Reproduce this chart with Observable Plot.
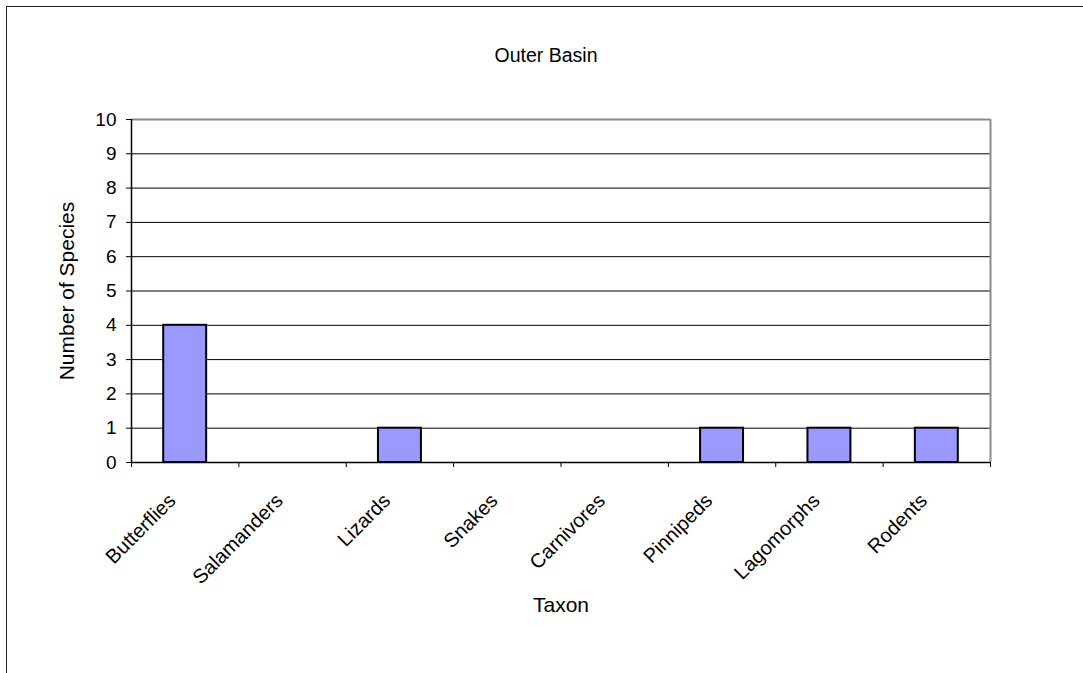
<!DOCTYPE html>
<html>
<head>
<meta charset="utf-8">
<script src="https://cdn.jsdelivr.net/npm/d3@7"></script>
<script src="https://cdn.jsdelivr.net/npm/@observablehq/plot@0.6"></script>
<style>
  html, body { margin: 0; padding: 0; background: #fff; overflow: hidden; }
  #chart { position: relative; width: 1083px; height: 673px; }
  #chart .edge {
    position: absolute; left: 6px; top: 6px; width: 1200px; height: 800px;
    border: 1.5px solid #222; box-sizing: border-box; pointer-events: none;
  }
</style>
</head>
<body>
<div id="chart"></div>
<script>
// Species counts per taxon for the Outer Basin
const taxa = ["Butterflies", "Salamanders", "Lizards", "Snakes", "Carnivores", "Pinnipeds", "Lagomorphs", "Rodents"];
const speciesCounts = [4, 0, 1, 0, 0, 1, 1, 1];
const yTicks = [0, 1, 2, 3, 4, 5, 6, 7, 8, 9, 10];

const chartTitle = "Outer Basin";
const xTitle = "Taxon";
const yTitle = "Number of Species";

// One row per taxon; the index places it in its slot on the x axis
const rows = taxa.map((taxon, i) => ({taxon, count: speciesCounts[i], i}));
const slotEdges = d3.range(taxa.length + 1);

const font = "'Liberation Sans', Arial, sans-serif";

const chart = Plot.plot({
  width: 1083,
  height: 673,
  marginLeft: 131,
  marginRight: 93,
  marginTop: 119,
  marginBottom: 211,
  style: {fontFamily: font, fontSize: "19px", color: "#000", background: "#fff"},
  x: {type: "linear", domain: [0, taxa.length], label: null},
  y: {domain: [0, 10], label: null},
  marks: [
    // horizontal gridlines
    Plot.ruleY(yTicks.filter(v => v > 0 && v < 10), {stroke: "#000", strokeWidth: 1}),
    // plot area border: grey top and right edges
    Plot.ruleY([10], {stroke: "#8a8a8a", strokeWidth: 2}),
    Plot.ruleX([taxa.length], {stroke: "#8a8a8a", strokeWidth: 2}),
    // bars (zero counts draw nothing)
    Plot.rectY(rows.filter(d => d.count > 0), {
      x1: d => d.i + 0.3,
      x2: d => d.i + 0.7,
      y1: 0,
      y2: "count",
      fill: "#9999ff",
      stroke: "#000",
      strokeWidth: 2
    }),
    // axis lines
    Plot.ruleX([0], {stroke: "#000", strokeWidth: 1.5}),
    Plot.ruleY([0], {stroke: "#000", strokeWidth: 1.5}),
    Plot.axisY({ticks: yTicks, tickSize: 5, tickPadding: 10, fontSize: 19, label: null, tickFormat: d3.format("d")}),
    Plot.axisX({ticks: slotEdges, tickSize: 5, label: null, tickFormat: () => ""}),
    // slanted taxon labels
    Plot.text(rows, {
      x: d => d.i + 0.5,
      y: 0,
      text: "taxon",
      rotate: -45,
      textAnchor: "end",
      dx: -13,
      dy: 35,
      fontSize: 20
    }),
    // titles
    Plot.text([chartTitle], {frameAnchor: "top", textAnchor: "middle", dx: -15, dy: -71, fontSize: 19.5}),
    Plot.text([xTitle], {frameAnchor: "bottom", textAnchor: "middle", dy: 149, fontSize: 21}),
    Plot.text([yTitle], {frameAnchor: "left", textAnchor: "middle", rotate: -90, dx: -64, fontSize: 21})
  ]
});

const holder = document.getElementById("chart");
holder.appendChild(chart);
const edge = document.createElement("div");
edge.className = "edge";
holder.appendChild(edge);
</script>
</body>
</html>
